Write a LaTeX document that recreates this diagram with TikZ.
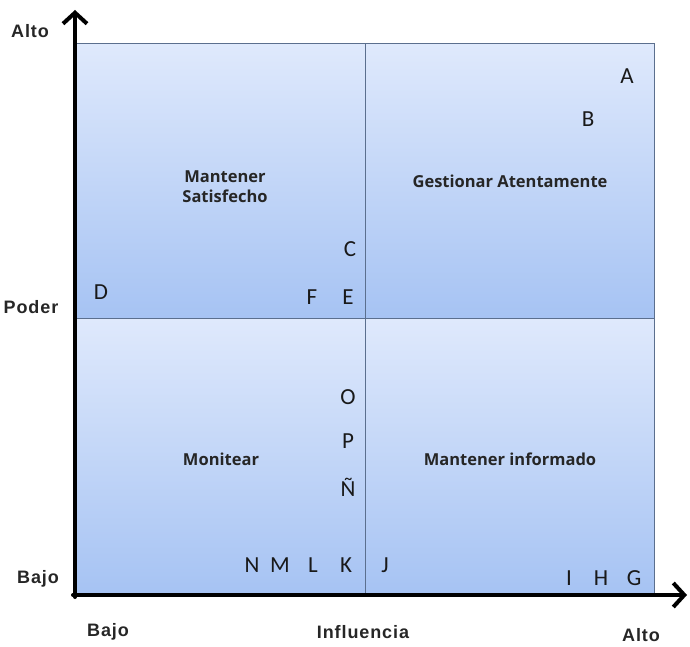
\documentclass[tikz,border=0pt]{standalone}
\usepackage{fontspec}
\usetikzlibrary{arrows.meta}
\newfontfamily\axisfont[LetterSpace=5]{Liberation Sans}
\newfontfamily\quadfont{Open Sans}
\newfontfamily\letterfont{Carlito}
\definecolor{quadtop}{HTML}{DFE9FC}
\definecolor{quadbot}{HTML}{A6C3F3}
\definecolor{quadedge}{HTML}{5B6F8E}
\begin{document}
\begin{tikzpicture}[x=1pt,y=-1pt,
  quad/.style={draw=quadedge, line width=0.8pt, minimum width=289pt,
    minimum height=275pt, inner sep=0pt, anchor=north west,
    top color=quadtop, bottom color=quadbot},
  quadlabel/.style={font=\quadfont\bfseries\fontsize{16.5}{20}\selectfont,
    align=center, text=black!85},
  axislabel/.style={font=\axisfont\bfseries\fontsize{18}{20}\selectfont,
    text=black!85},
  holder/.style={font=\letterfont\fontsize{23}{25}\selectfont, text=black!90,
    inner sep=0pt},
  axisline/.style={line width=4pt, line cap=round,
    -{Straight Barb[length=11pt,width=24pt,line width=4pt]}}]
\useasboundingbox (0,0) rectangle (690,647);

% quadrants
\node[quad] (tl) at (76,43) {};
\node[quad] (tr) at (365,43) {};
\node[quad] (bl) at (76,318) {};
\node[quad] (br) at (365,318) {};

% quadrant titles
\node[quadlabel] (tlt) at (225,187) {Mantener\\Satisfecho};
\node[quadlabel] (trt) at (510,181) {Gestionar Atentamente};
\node[quadlabel] (blt) at (221,459) {Monitear};
\node[quadlabel] (brt) at (510,459) {Mantener informado};

% stakeholders
\node[holder] (A) at (627,76) {A};
\node[holder] (B) at (588,119) {B};
\node[holder] (C) at (350,249) {C};
\node[holder] (D) at (101,292) {D};
\node[holder] (F) at (312,297) {F};
\node[holder] (E) at (348,297) {E};
\node[holder] (O) at (348,397) {O};
\node[holder] (P) at (348,441) {P};
\node[holder] (Nt) at (348,487) {Ñ};
\node[holder] (N) at (252,565) {N};
\node[holder] (M) at (280,565) {M};
\node[holder] (L) at (313,565) {L};
\node[holder] (K) at (346,565) {K};
\node[holder] (J) at (385,565) {J};
\node[holder] (I) at (569,578) {I};
\node[holder] (H) at (601,578) {H};
\node[holder] (G) at (634,578) {G};

% axes
\coordinate (origin) at (75,595);
\coordinate (ytip) at (75,10);
\coordinate (xtip) at (687,595);
\draw[axisline] (75,597) -- (ytip);
\draw[axisline] (73,595) -- (xtip);

% axis labels
\node[axislabel] (yhigh) at (30,31) {Alto};
\node[axislabel] (ymid) at (31,307) {Poder};
\node[axislabel] (ylow) at (38,579) {Bajo};
\node[axislabel] (xlow) at (108,632) {Bajo};
\node[axislabel] (xmid) at (363,632) {Influencia};
\node[axislabel] (xhigh) at (641,635) {Alto};
\end{tikzpicture}
\end{document}
